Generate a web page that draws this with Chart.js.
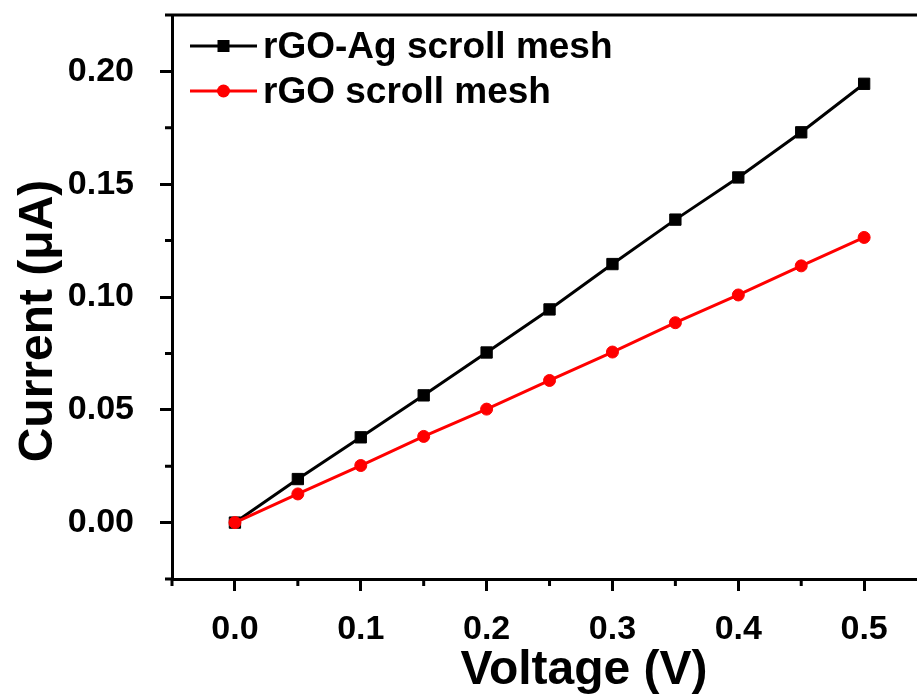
<!DOCTYPE html>
<html>
<head>
<meta charset="utf-8">
<script src="https://cdn.jsdelivr.net/npm/chart.js@4"></script>
<style>
  html, body { margin: 0; padding: 0; background: #fff; overflow: hidden; }
</style>
</head>
<body>
<canvas id="myChart" width="917" height="697"></canvas>
<script>
// data
const voltage = [0, 0.05, 0.10, 0.15, 0.20, 0.25, 0.30, 0.35, 0.40, 0.45, 0.50];
const currentAgMesh = [0, 0.0193, 0.0378, 0.0564, 0.0754, 0.0945, 0.1146, 0.1343, 0.1530, 0.1730, 0.1945];
const currentRgoMesh = [0, 0.0127, 0.0253, 0.0382, 0.0503, 0.0630, 0.0756, 0.0886, 0.1009, 0.1138, 0.1264];
const seriesNames = ['rGO-Ag scroll mesh', 'rGO scroll mesh'];

// axis ticks (majors get labels, the rest are minor ticks)
const xTickValues = [-0.05, 0, 0.05, 0.10, 0.15, 0.20, 0.25, 0.30, 0.35, 0.40, 0.45, 0.50];
const xMajor = [0, 0.10, 0.20, 0.30, 0.40, 0.50];
const xTickLabels = ['0.0', '0.1', '0.2', '0.3', '0.4', '0.5'];
const yTickValues = [-0.025, 0, 0.025, 0.05, 0.075, 0.10, 0.125, 0.15, 0.175, 0.20, 0.225];
const yMajor = [0, 0.05, 0.10, 0.15, 0.20];
const yTickLabels = ['0.00', '0.05', '0.10', '0.15', '0.20'];
const xTitle = 'Voltage (V)';
const yTitle = 'Current (μA)';

const FONT = "'Liberation Sans', Arial, sans-serif";

function majorIndex(v, majors) {
    return majors.findIndex(m => Math.abs(m - v) < 1e-9);
}

const toPoints = (ys) => voltage.map((x, i) => ({ x: x, y: ys[i] }));

// top frame line and the short minor ticks
const frameAndMinorTicks = {
    id: 'frameAndMinorTicks',
    afterDraw(chart) {
        const { ctx, chartArea, scales } = chart;
        ctx.save();
        ctx.strokeStyle = '#000';
        ctx.lineWidth = 3;
        ctx.beginPath();
        ctx.moveTo(chartArea.left - 1.5, chartArea.top);
        ctx.lineTo(chartArea.right, chartArea.top);
        xTickValues.forEach(v => {
            if (majorIndex(v, xMajor) >= 0) return;
            const px = scales.x.getPixelForValue(v);
            ctx.moveTo(px, chartArea.bottom);
            ctx.lineTo(px, chartArea.bottom + 7);
        });
        yTickValues.forEach(v => {
            if (majorIndex(v, yMajor) >= 0) return;
            const py = scales.y.getPixelForValue(v);
            ctx.moveTo(chartArea.left - 7, py);
            ctx.lineTo(chartArea.left, py);
        });
        ctx.stroke();
        ctx.restore();
    }
};

// axis titles (not centred on the axes in the original)
const axisTitles = {
    id: 'axisTitles',
    afterDraw(chart) {
        const { ctx, chartArea } = chart;
        ctx.save();
        ctx.fillStyle = '#000';
        ctx.font = 'bold 48px ' + FONT;
        ctx.textAlign = 'center';
        ctx.textBaseline = 'alphabetic';
        ctx.fillText(xTitle, 584, chartArea.bottom + 105);
        ctx.translate(52, 321);
        ctx.rotate(-Math.PI / 2);
        ctx.fillText(yTitle, 0, 0);
        ctx.restore();
    }
};

// legend inside the plot, line with marker in the middle
const insideLegend = {
    id: 'insideLegend',
    afterDraw(chart) {
        const { ctx, chartArea } = chart;
        const x0 = chartArea.left + 18;
        const x1 = x0 + 67;
        ctx.save();
        ctx.font = 'bold 37px ' + FONT;
        ctx.textBaseline = 'middle';
        ctx.textAlign = 'left';
        chart.data.datasets.slice().sort((a, b) => a.legendIndex - b.legendIndex).forEach((ds, i) => {
            const y = chartArea.top + 31 + i * 45;
            ctx.strokeStyle = ds.borderColor;
            ctx.lineWidth = 3;
            ctx.beginPath();
            ctx.moveTo(x0, y);
            ctx.lineTo(x1, y);
            ctx.stroke();
            const cx = (x0 + x1) / 2;
            ctx.fillStyle = ds.borderColor;
            if (ds.pointStyle === 'rect') {
                ctx.fillRect(cx - 6, y - 6, 12, 12);
            } else {
                ctx.beginPath();
                ctx.arc(cx, y, 6.5, 0, Math.PI * 2);
                ctx.fill();
            }
            ctx.fillStyle = '#000';
            ctx.fillText(ds.label, x1 + 6, y + 2);
        });
        ctx.restore();
    }
};

const ctx = document.getElementById('myChart');
new Chart(ctx, {
    type: 'scatter',
    data: {
        datasets: [{
            label: seriesNames[1],
            legendIndex: 1,
            data: toPoints(currentRgoMesh),
            showLine: true,
            borderColor: '#ff0000',
            backgroundColor: '#ff0000',
            borderWidth: 3,
            pointStyle: 'circle',
            pointRadius: 6,
            pointBorderWidth: 1,
            order: 0
        }, {
            label: seriesNames[0],
            legendIndex: 0,
            data: toPoints(currentAgMesh),
            showLine: true,
            borderColor: '#000000',
            backgroundColor: '#000000',
            borderWidth: 3,
            pointStyle: 'rect',
            pointRadius: 8,
            pointBorderWidth: 1,
            order: 1
        }]
    },
    options: {
        responsive: false,
        animation: false,
        devicePixelRatio: 1,
        layout: { autoPadding: false, padding: { top: 15, left: 0, right: 0, bottom: 0 } },
        plugins: {
            legend: { display: false },
            tooltip: { enabled: false }
        },
        scales: {
            x: {
                type: 'linear',
                position: 'bottom',
                min: -0.05,
                max: 0.542,   // the original frame is cut off on the right
                afterBuildTicks: (scale) => { scale.ticks = xTickValues.map(v => ({ value: v })); },
                afterFit: (scale) => { scale.height = 118; scale.paddingLeft = 0; scale.paddingRight = 0; },
                grid: {
                    drawOnChartArea: false,
                    drawTicks: true,
                    tickLength: 12,
                    tickWidth: 3,
                    tickColor: (c) => (c.tick && majorIndex(c.tick.value, xMajor) >= 0) ? '#000' : 'rgba(0,0,0,0)'
                },
                border: { display: true, color: '#000', width: 3 },
                ticks: {
                    autoSkip: false,
                    maxRotation: 0,
                    padding: 18,
                    color: '#000',
                    font: { family: FONT, size: 34, weight: 'bold' },
                    callback: (value) => {
                        const i = majorIndex(value, xMajor);
                        return i >= 0 ? xTickLabels[i] : null;
                    }
                }
            },
            y: {
                type: 'linear',
                min: -0.025,
                max: 0.225,
                afterBuildTicks: (scale) => { scale.ticks = yTickValues.map(v => ({ value: v })); },
                afterFit: (scale) => { scale.width = 172; scale.paddingTop = 0; scale.paddingBottom = 0; },
                grid: {
                    drawOnChartArea: false,
                    drawTicks: true,
                    tickLength: 12,
                    tickWidth: 3,
                    tickColor: (c) => (c.tick && majorIndex(c.tick.value, yMajor) >= 0) ? '#000' : 'rgba(0,0,0,0)'
                },
                border: { display: true, color: '#000', width: 3 },
                ticks: {
                    autoSkip: false,
                    padding: 26,
                    color: '#000',
                    font: { family: FONT, size: 34, weight: 'bold' },
                    callback: (value) => {
                        const i = majorIndex(value, yMajor);
                        return i >= 0 ? yTickLabels[i] : null;
                    }
                }
            }
        }
    },
    plugins: [frameAndMinorTicks, axisTitles, insideLegend]
});
</script>
</body>
</html>
